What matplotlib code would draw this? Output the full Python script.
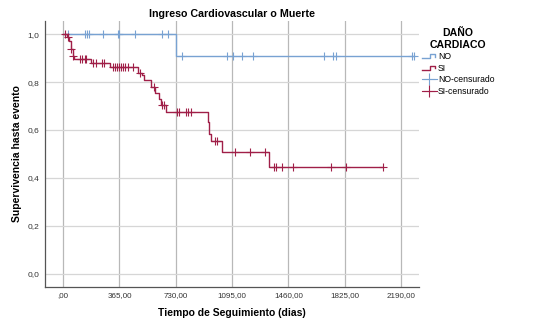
import numpy as np
import matplotlib
matplotlib.use("Agg")
import matplotlib.pyplot as plt
from matplotlib.lines import Line2D
from matplotlib.legend_handler import HandlerBase

plt.rcParams['font.family'] = ['Liberation Sans', 'DejaVu Sans']

# curvas Kaplan-Meier (tiempo en dias, supervivencia)
no_t = [0, 733]
no_s = [1.0, 0.91]
no_fin = 2276
no_cens = [32, 141, 152, 169, 259, 353, 363, 465, 638, 677,
           771, 1059, 1098, 1157, 1228, 1692, 1750, 1766, 2261, 2276]

si_t = [0, 22, 37, 50, 61, 69, 178, 303, 486, 508, 523, 567, 594, 622,
        633, 666, 936, 947, 956, 1027, 1336]
si_s = [1.0, 0.99, 0.97, 0.94, 0.91, 0.895, 0.88, 0.862, 0.84, 0.83, 0.81,
        0.78, 0.755, 0.73, 0.705, 0.675, 0.635, 0.585, 0.555, 0.508, 0.445]
si_fin = 2075
si_cens = [11, 29, 52, 65, 108, 119, 141, 147, 194, 212, 249, 264, 324, 335,
           350, 363, 374, 385, 400, 421, 450, 497, 590, 638, 655, 739, 752,
           795, 810, 826, 983, 995, 1113, 1210, 1307, 1368, 1377, 1416,
           1491, 1734, 1833, 2075]

xticks = [0, 365, 730, 1095, 1460, 1825, 2190]
xtick_labels = [',00', '365,00', '730,00', '1095,00', '1460,00', '1825,00', '2190,00']
yticks = [0.0, 0.2, 0.4, 0.6, 0.8, 1.0]
ytick_labels = ['0,0', '0,2', '0,4', '0,6', '0,8', '1,0']

azul = '#78a2d2'
rojo = '#a01f48'


def valor_en(t, tiempos, surv):
    # busca la supervivencia en el tiempo t (funcion escalon)
    idx = np.searchsorted(tiempos, t, side='right') - 1
    return np.array(surv)[idx]


class HandlerEscalon(HandlerBase):
    # icono de escalon como en SPSS
    def create_artists(self, legend, orig_handle, xdescent, ydescent,
                       width, height, fontsize, trans):
        x0 = -xdescent
        y0 = -ydescent
        xs = [x0, x0 + width * 0.55, x0 + width * 0.55, x0 + width * 0.9, x0 + width * 0.9]
        ys = [y0 + height * 0.15, y0 + height * 0.15, y0 + height * 0.8,
              y0 + height * 0.8, y0 + height * 0.45]
        ln = Line2D(xs, ys, color=orig_handle.get_color(), linewidth=1, transform=trans)
        return [ln]


fig = plt.figure(figsize=(5.6, 3.29), dpi=100)
ax = fig.add_axes([0.080, 0.128, 0.668, 0.808])

# lineas de rejilla
for x in xticks:
    ax.axvline(x, color='#b8b8b8', linewidth=0.9, zorder=0)
for y in yticks:
    ax.axhline(y, color='#d6d6d6', linewidth=0.9, zorder=0)

# curvas
ax.step(no_t + [no_fin], no_s + [no_s[-1]], where='post', color=azul, linewidth=1, zorder=3)
ax.step(si_t + [si_fin], si_s + [si_s[-1]], where='post', color=rojo, linewidth=1, zorder=4)

ax.plot(no_cens, valor_en(no_cens, no_t, no_s), linestyle='none', marker='+',
        markersize=6, markeredgewidth=0.8, color=azul, zorder=3)
ax.plot(si_cens, valor_en(si_cens, si_t, si_s), linestyle='none', marker='+',
        markersize=6, markeredgewidth=0.8, color=rojo, zorder=4)

ax.set_xlim(-119, 2306)
ax.set_ylim(-0.055, 1.055)
ax.set_xticks(xticks)
ax.set_xticklabels(xtick_labels)
ax.set_yticks(yticks)
ax.set_yticklabels(ytick_labels)
ax.tick_params(axis='x', length=0, labelsize=5.8, colors='#333333', pad=4)
ax.tick_params(axis='y', length=0, labelsize=6, colors='#333333', pad=4)

for lado in ['top', 'right']:
    ax.spines[lado].set_visible(False)
for lado in ['left', 'bottom']:
    ax.spines[lado].set_color('#555555')
    ax.spines[lado].set_linewidth(0.9)

ax.set_title('Ingreso Cardiovascular o Muerte', fontsize=7.7, fontweight='bold', pad=3)
ax.set_xlabel('Tiempo de Seguimiento (dias)', fontsize=7.5, fontweight='bold', labelpad=6)
ax.set_ylabel('Supervivencia hasta evento', fontsize=7.5, fontweight='bold', labelpad=4)

# leyenda
h_no = Line2D([], [], color=azul)
h_si = Line2D([], [], color=rojo)
h_noc = Line2D([], [], color=azul, marker='+', markersize=9, markeredgewidth=0.8, linewidth=0.8)
h_sic = Line2D([], [], color=rojo, marker='+', markersize=9, markeredgewidth=0.8, linewidth=0.8)
leg = fig.legend([h_no, h_si, h_noc, h_sic], ['NO', 'SI', 'NO-censurado', 'SI-censurado'],
                 title='DAÑO\nCARDIACO', loc='upper left', bbox_to_anchor=(0.747, 0.925),
                 frameon=False, fontsize=6.2, handlelength=1.75, handletextpad=0.15,
                 labelspacing=0.3, borderaxespad=0,
                 handler_map={h_no: HandlerEscalon(), h_si: HandlerEscalon()},
                 title_fontproperties={'weight': 'bold', 'size': 7.6})
leg._legend_box.align = 'center'
leg.get_title().set_multialignment('center')

fig.savefig('out.png', dpi=100)
